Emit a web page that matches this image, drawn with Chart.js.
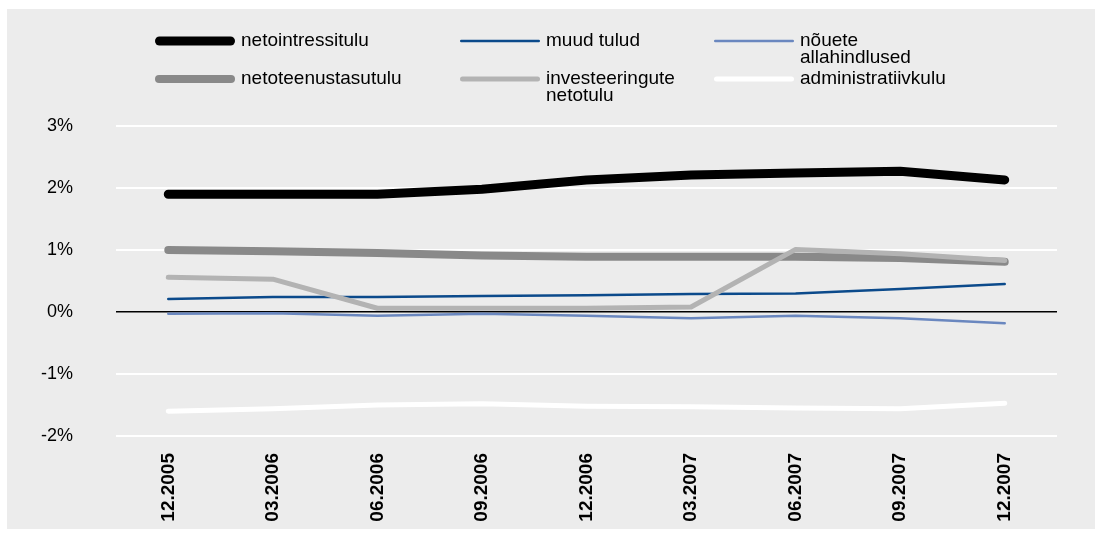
<!DOCTYPE html>
<html>
<head>
<meta charset="utf-8">
<script src="https://cdn.jsdelivr.net/npm/chart.js@4.4.1/dist/chart.umd.min.js"></script>
<style>
  html, body { margin: 0; padding: 0; background: #fff; }
  #wrap { width: 1102px; height: 535px; }
</style>
</head>
<body>
<div id="wrap"><canvas id="chart" width="1102" height="535"></canvas></div>
<script>
const categories = ["12.2005", "03.2006", "06.2006", "09.2006", "12.2006", "03.2007", "06.2007", "09.2007", "12.2007"];
const yTicks = [-2, -1, 0, 1, 2, 3];

const netointressitulu = [1.90, 1.90, 1.90, 1.98, 2.13, 2.21, 2.24, 2.27, 2.13];
const muudTulud = [0.21, 0.24, 0.24, 0.26, 0.27, 0.29, 0.30, 0.37, 0.45];
const nouteteAllahindlused = [-0.03, -0.02, -0.06, -0.03, -0.06, -0.10, -0.06, -0.10, -0.18];
const netoteenustasutulu = [1.00, 0.98, 0.95, 0.91, 0.89, 0.89, 0.89, 0.87, 0.81];
const investeeringuteNetotulu = [0.56, 0.53, 0.06, 0.06, 0.06, 0.08, 1.01, 0.94, 0.83];
const administratiivkulu = [-1.60, -1.56, -1.50, -1.48, -1.52, -1.53, -1.55, -1.56, -1.47];

const COLORS = {
  bg: "#ececec",
  black: "#000000",
  darkBlue: "#0b4a8b",
  lightBlue: "#6a87bf",
  darkGray: "#898989",
  lightGray: "#b3b3b3",
  white: "#ffffff"
};

const FONT = "'Liberation Sans', Arial, Helvetica, sans-serif";

function line(label, data, color, width, order, legendLines, legendPos) {
  return {
    label, data,
    borderColor: color,
    backgroundColor: color,
    borderWidth: width,
    borderCapStyle: "round",
    borderJoinStyle: "round",
    pointRadius: 0,
    tension: 0,
    order,
    legendLines, legendPos
  };
}

const datasets = [
  line("netointressitulu", netointressitulu, COLORS.black, 9, 2, ["netointressitulu"], [155, 41]),
  line("muud tulud", muudTulud, COLORS.darkBlue, 2.5, 4, ["muud tulud"], [460, 41]),
  line("nõuete allahindlused", nouteteAllahindlused, COLORS.lightBlue, 2.5, 5, ["nõuete", "allahindlused"], [714, 41]),
  line("netoteenustasutulu", netoteenustasutulu, COLORS.darkGray, 8, 3, ["netoteenustasutulu"], [155, 79]),
  line("investeeringute netotulu", investeeringuteNetotulu, COLORS.lightGray, 5, 1, ["investeeringute", "netotulu"], [460, 79]),
  line("administratiivkulu", administratiivkulu, COLORS.white, 5, 6, ["administratiivkulu"], [714, 79])
];

const bgPlugin = {
  id: "bgBox",
  beforeDraw(chart) {
    const c = chart.ctx;
    c.save();
    c.fillStyle = COLORS.bg;
    c.fillRect(7, 9, 1088, 520);
    c.restore();
  }
};

// legend drawn by hand: 3 columns x 2 rows, multi-line labels
const legendPlugin = {
  id: "customLegend",
  afterDraw(chart) {
    const c = chart.ctx;
    c.save();
    chart.data.datasets.forEach(ds => {
      const [x, y] = ds.legendPos;
      c.strokeStyle = ds.borderColor;
      c.lineWidth = ds.borderWidth;
      c.lineCap = "round";
      c.beginPath();
      c.moveTo(x + ds.borderWidth / 2, y);
      c.lineTo(x + 80 - ds.borderWidth / 2, y);
      c.stroke();
      c.fillStyle = "#000";
      c.font = "19px " + FONT;
      c.textBaseline = "middle";
      ds.legendLines.forEach((t, i) => c.fillText(t, x + 86, y + i * 17));
    });
    c.restore();
  }
};

new Chart(document.getElementById("chart"), {
  type: "line",
  data: { labels: categories, datasets },
  plugins: [bgPlugin, legendPlugin],
  options: {
    responsive: false,
    animation: false,
    layout: { padding: { top: 126, right: 45, bottom: 0, left: 0 } },
    plugins: {
      legend: { display: false },
      tooltip: { enabled: false }
    },
    scales: {
      x: {
        offset: true,
        grid: { display: false },
        border: { display: false },
        ticks: {
          minRotation: 90,
          maxRotation: 90,
          padding: 9,
          color: "#000",
          font: { family: FONT, size: 19, weight: "bold" }
        },
        afterFit(scale) { scale.height = 99; }
      },
      y: {
        min: -2,
        max: 3,
        afterBuildTicks(scale) { scale.ticks = yTicks.map(v => ({ value: v })); },
        grid: {
          drawTicks: false,
          color: ctx => ctx.tick && ctx.tick.value === 0 ? COLORS.black : COLORS.white,
          lineWidth: ctx => ctx.tick && ctx.tick.value === 0 ? 1.5 : 2
        },
        border: { display: false },
        ticks: {
          padding: 43,
          color: "#000",
          font: { family: FONT, size: 18 },
          callback: v => v + "%"
        },
        afterFit(scale) { scale.width = 116; }
      }
    }
  }
});
</script>
</body>
</html>
